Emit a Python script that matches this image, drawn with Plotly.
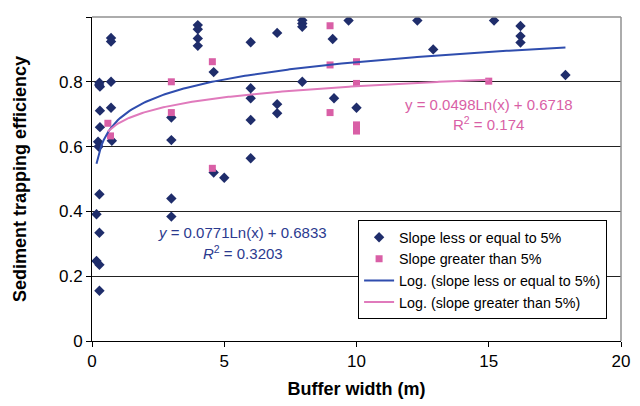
import numpy as np
import plotly.graph_objects as go

# Slope <= 5% (diamonds)
low_x = [0.28, 0.30, 0.27, 0.72, 0.72, 0.72, 0.30, 0.72, 0.30, 0.23, 0.25, 0.75,
         0.28, 0.17, 0.28, 0.17, 0.28, 0.28,
         3.0, 3.0, 3.0, 3.0, 4.0, 4.0, 4.0, 4.0, 4.6, 4.6, 5.0,
         6.0, 6.0, 6.0, 6.0, 6.0, 7.0, 7.0, 7.0, 7.95, 7.95, 7.95, 7.95,
         9.1, 9.15, 9.7, 10.0, 12.3, 12.9, 15.2, 16.2, 16.2, 16.2, 17.9]
low_y = [0.797, 0.785, 0.79, 0.80, 0.935, 0.924, 0.711, 0.72, 0.66, 0.615, 0.60, 0.618,
         0.453, 0.391, 0.334, 0.247, 0.235, 0.155,
         0.62, 0.69, 0.44, 0.384, 0.975, 0.962, 0.934, 0.911, 0.83, 0.52, 0.504,
         0.922, 0.78, 0.749, 0.682, 0.564, 0.951, 0.731, 0.703, 0.99, 0.98, 0.97, 0.80,
         0.932, 0.749, 0.989, 0.72, 0.989, 0.90, 0.989, 0.972, 0.941, 0.921, 0.821]

# Slope > 5% (squares)
high_x = [0.6, 0.7, 3.0, 3.0, 4.55, 4.55, 9.0, 9.0, 9.0, 10.0, 10.0, 10.0, 10.0, 15.0]
high_y = [0.672, 0.633, 0.80, 0.705, 0.862, 0.533, 0.973, 0.852, 0.705, 0.862, 0.795,
          0.667, 0.648, 0.802]

# Logarithmic trendline coefficients (as displayed)
low_a, low_b = 0.0771, 0.6833
high_a, high_b = 0.0498, 0.6718

x_ticks = [0, 5, 10, 15, 20]
y_ticks = [0, 0.2, 0.4, 0.6, 0.8, 1]

NAVY = "#1F2D6B"
PINK_SQ = "#D95FA6"
BLUE_LN = "#2F4DAE"
PINK_LN = "#E07ABC"

def trend(xs, a, b):
    xx = np.linspace(min(xs), max(xs), 200)
    return xx, a * np.log(xx) + b

fig = go.Figure()
fig.add_trace(go.Scatter(x=low_x, y=low_y, mode="markers", name="Slope less or equal to 5%",
                         marker=dict(symbol="diamond", size=8, color=NAVY), legendgroup="a"))
fig.add_trace(go.Scatter(x=high_x, y=high_y, mode="markers", name="Slope greater than 5%",
                         marker=dict(symbol="square", size=7, color=PINK_SQ), legendgroup="b"))
tx, ty = trend(low_x, low_a, low_b)
fig.add_trace(go.Scatter(x=tx, y=ty, mode="lines", name="Log. (slope less or equal to 5%)",
                         line=dict(color=BLUE_LN, width=2), legendgroup="c"))
tx2, ty2 = trend(high_x, high_a, high_b)
fig.add_trace(go.Scatter(x=tx2, y=ty2, mode="lines", name="Log. (slope greater than 5%)",
                         line=dict(color=PINK_LN, width=2), legendgroup="d"))

font = "Liberation Sans, Arial, sans-serif"
fig.update_layout(
    width=632, height=398,
    margin=dict(l=84, r=19, t=9, b=65, autoexpand=False),
    paper_bgcolor="white", plot_bgcolor="white",
    font=dict(family=font, size=17, color="black"),
    showlegend=True,
    legend=dict(x=0.503, y=0.372, xanchor="left", yanchor="top",
                bgcolor="white", bordercolor="black", borderwidth=1,
                font=dict(size=14.3, color="black"), tracegroupgap=7,
                traceorder="normal"),
    xaxis=dict(range=[0, 20], tickvals=x_ticks, showgrid=False, zeroline=False,
               showline=True, linecolor="black", linewidth=1, automargin=False,
               ticks="outside", ticklen=5, tickcolor="black",
               title=dict(text="<b>Buffer width (m)</b>", font=dict(size=18), standoff=11)),
    yaxis=dict(range=[0, 1], tickvals=y_ticks, ticktext=["0", "0.2", "0.4", "0.6", "0.8", "1"],
               showgrid=True, gridcolor="#222222", gridwidth=1, zeroline=False,
               showline=True, linecolor="black", linewidth=1, automargin=False,
               ticks="outside", ticklen=5, tickcolor="black",
               title=dict(text="<b>Sediment trapping efficiency</b>", font=dict(size=18), standoff=27)),
    shapes=[
        dict(type="line", xref="paper", yref="paper", x0=0, x1=1, y0=1, y1=1,
             line=dict(color="#909090", width=1.5)),
        dict(type="line", xref="paper", yref="paper", x0=1, x1=1, y0=0, y1=1,
             line=dict(color="#909090", width=1.5)),
    ],
    annotations=[
        dict(x=5.7, y=0.335, xref="x", yref="y", showarrow=False,
             text="<i>y</i> = 0.0771Ln(x) + 0.6833", font=dict(size=15, color="#2B3A8F")),
        dict(x=5.7, y=0.274, xref="x", yref="y", showarrow=False,
             text="<i>R</i><sup>2</sup> = 0.3203", font=dict(size=15, color="#2B3A8F")),
        dict(x=15.0, y=0.73, xref="x", yref="y", showarrow=False,
             text="y = 0.0498Ln(x) + 0.6718", font=dict(size=15, color="#D95FA6")),
        dict(x=15.0, y=0.670, xref="x", yref="y", showarrow=False,
             text="R<sup>2</sup> = 0.174", font=dict(size=15, color="#D95FA6")),
    ],
)

fig.write_html("out.html")
